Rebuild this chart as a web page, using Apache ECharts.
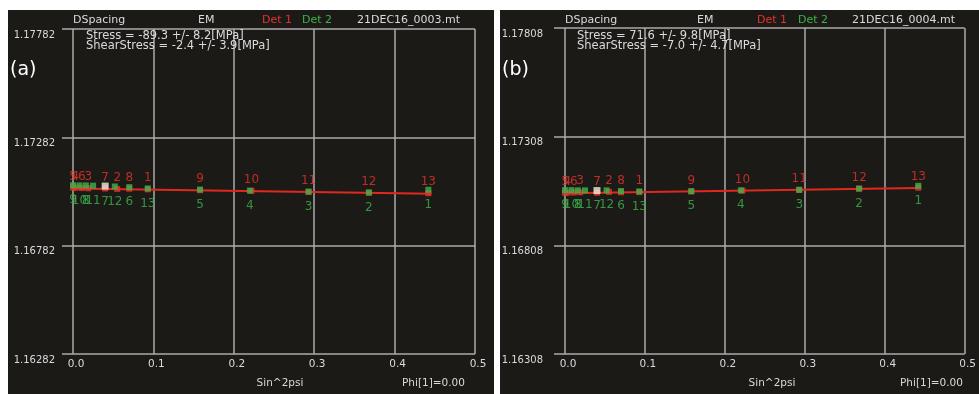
<!DOCTYPE html>
<html>
<head>
<meta charset="utf-8">
<script src="https://cdn.jsdelivr.net/npm/echarts@6/dist/echarts.min.js"></script>
<style>
  html, body { margin: 0; padding: 0; background: #ffffff; }
  #chart { width: 979px; height: 394px; }
</style>
</head>
<body>
<div id="chart"></div>
<script>
// sin^2 psi positions, sorted by x, same for both samples
var sin2psiDet1 = [0, 0.003, 0.011, 0.019, 0.04, 0.055, 0.07, 0.093, 0.158, 0.222, 0.293, 0.368, 0.442];
var sin2psiDet2 = [0, 0.008, 0.016, 0.025, 0.04, 0.052, 0.07, 0.093, 0.158, 0.22, 0.293, 0.368, 0.442];
var labelsDet1 = ['5', '4', '6', '3', '7', '2', '8', '1', '9', '10', '11', '12', '13'];
var labelsDet2 = ['9', '10', '8', '11', '7', '12', '6', '13', '5', '4', '3', '2', '1'];

// (a) 21DEC16_0003
var dA_det1 = [1.17050, 1.17049, 1.17048, 1.17047, 1.17046, 1.17044, 1.17045, 1.17042, 1.17038, 1.17035, 1.17031, 1.17027, 1.17024];
var dA_det2 = [1.17061, 1.17060, 1.17060, 1.17059, 1.17057, 1.17055, 1.17052, 1.17046, 1.17041, 1.17036, 1.17031, 1.17027, 1.17040];
var fitA_x = [0, 0.446];
var fitA_d = [1.17046, 1.17022];
var yTicksA = [1.16282, 1.17782];

// (b) 21DEC16_0004
var dB_det1 = [1.17050, 1.17050, 1.17051, 1.17052, 1.17050, 1.17054, 1.17052, 1.17053, 1.17056, 1.17060, 1.17064, 1.17069, 1.17073];
var dB_det2 = [1.17062, 1.17062, 1.17061, 1.17061, 1.17060, 1.17061, 1.17058, 1.17056, 1.17057, 1.17061, 1.17063, 1.17069, 1.17082];
var fitB_x = [0, 0.441];
var fitB_d = [1.17048, 1.17072];
var yTicksB = [1.16308, 1.17808];

var selectedIdx = 4; // highlighted point (green label 7)

var FONT = 'DejaVu Sans';
var GRID_COLOR = '#ababab';
var TEXT_COLOR = '#dadada';
var RED = '#e5332c';
var GREEN = '#3cb44a';

function pairs(xs, ys) {
    return xs.map(function (x, i) { return [x, ys[i]]; });
}

function xAxisFor(idx) {
    return {
        type: 'value', gridIndex: idx, min: 0, max: 0.5, interval: 0.1,
        axisLine: { show: false },
        axisTick: { show: false },
        splitLine: { show: true, lineStyle: { color: GRID_COLOR, width: 1.5 } },
        axisLabel: {
            color: TEXT_COLOR, fontFamily: FONT, fontSize: 10.5, margin: 5,
            padding: [0, 0, 0, 6],
            formatter: function (v) { return v.toFixed(1); }
        }
    };
}

function yAxisFor(idx, ticks, margin) {
    return {
        type: 'value', gridIndex: idx, min: ticks[0], max: ticks[1], interval: 0.005,
        axisLine: { show: false },
        axisTick: { show: true, length: 11, lineStyle: { color: GRID_COLOR, width: 1.5 } },
        splitLine: { show: true, lineStyle: { color: GRID_COLOR, width: 1.5 } },
        axisLabel: {
            color: TEXT_COLOR, fontFamily: FONT, fontSize: 10, margin: margin,
            verticalAlign: 'top', align: 'right', padding: [1, 0, 0, 0],
            formatter: function (v) { return v.toFixed(5); }
        }
    };
}

function pointSeries(idx, xs, ys, labels, color, pos, dist, hi) {
    return {
        type: 'scatter', xAxisIndex: idx, yAxisIndex: idx,
        symbol: 'rect', symbolSize: 6,
        itemStyle: { color: color },
        z: hi ? 4 : 3,
        label: {
            show: true, position: pos, distance: dist,
            color: color, fontFamily: FONT, fontSize: 12,
            formatter: function (p) { return labels[p.dataIndex]; }
        },
        data: pairs(xs, ys).map(function (d, i) {
            if (hi && i === selectedIdx) {
                return { value: d, symbolSize: 7, itemStyle: { color: '#e8f0d8' } };
            }
            return d;
        })
    };
}

function fitSeries(idx, xs, ys) {
    return {
        type: 'line', xAxisIndex: idx, yAxisIndex: idx,
        showSymbol: false, z: 2,
        lineStyle: { color: '#e0281e', width: 2 },
        data: pairs(xs, ys)
    };
}

function txt(x, y, s, color, size, align) {
    return {
        type: 'text', x: x, y: y, z: 10,
        style: {
            text: s, fill: color || TEXT_COLOR, font: (size || 11) + 'px "' + FONT + '"',
            textAlign: align || 'left', textVerticalAlign: 'middle'
        }
    };
}

function header(pos, file, stressLines) {
    return [
        txt(pos[0], 20, 'DSpacing'),
        txt(pos[1], 20, 'EM'),
        txt(pos[2], 20, 'Det 1', RED),
        txt(pos[3], 20, 'Det 2', GREEN),
        txt(pos[4], 20, file),
        txt(pos[5], 36, stressLines[0], TEXT_COLOR, 11.5),
        txt(pos[5], 46, stressLines[1], TEXT_COLOR, 11.5)
    ];
}

var chart = echarts.init(document.getElementById('chart'));
chart.setOption({
    backgroundColor: '#1c1a17',
    animation: false,
    grid: [
        { left: 73, top: 29, width: 402, height: 325 },
        { left: 565, top: 28, width: 410, height: 326 }
    ],
    xAxis: [xAxisFor(0), xAxisFor(1)],
    yAxis: [yAxisFor(0, yTicksA, 18), yAxisFor(1, yTicksB, 22)],
    series: [
        fitSeries(0, fitA_x, fitA_d),
        pointSeries(0, sin2psiDet1, dA_det1, labelsDet1, RED, 'top', 2, false),
        pointSeries(0, sin2psiDet2, dA_det2, labelsDet2, GREEN, 'bottom', 6, true),
        fitSeries(1, fitB_x, fitB_d),
        pointSeries(1, sin2psiDet1, dB_det1, labelsDet1, RED, 'top', 2, false),
        pointSeries(1, sin2psiDet2, dB_det2, labelsDet2, GREEN, 'bottom', 6, true)
    ],
    graphic: [
        // white page margins and divider
        { type: 'rect', shape: { x: 0, y: 0, width: 979, height: 10 }, style: { fill: '#ffffff' }, z: 20 },
        { type: 'rect', shape: { x: 0, y: 0, width: 8, height: 394 }, style: { fill: '#ffffff' }, z: 20 },
        { type: 'rect', shape: { x: 494, y: 0, width: 6, height: 394 }, style: { fill: '#ffffff' }, z: 20 }
    ]
        .concat(header([73, 198, 262, 302, 357, 86], '21DEC16_0003.mt',
            ['Stress = -89.3 +/- 8.2[MPa]', 'ShearStress = -2.4 +/- 3.9[MPa]']))
        .concat(header([565, 697, 757, 798, 852, 577], '21DEC16_0004.mt',
            ['Stress = 71.6 +/- 9.8[MPa]', 'ShearStress = -7.0 +/- 4.7[MPa]']))
        .concat([
            txt(10, 70, '(a)', '#ffffff', 19),
            txt(502, 70, '(b)', '#ffffff', 19),
            txt(280, 383, 'Sin^2psi', TEXT_COLOR, 10.5, 'center'),
            txt(402, 383, 'Phi[1]=0.00', TEXT_COLOR, 10.5),
            txt(772, 383, 'Sin^2psi', TEXT_COLOR, 10.5, 'center'),
            txt(900, 383, 'Phi[1]=0.00', TEXT_COLOR, 10.5)
        ])
});
</script>
</body>
</html>
